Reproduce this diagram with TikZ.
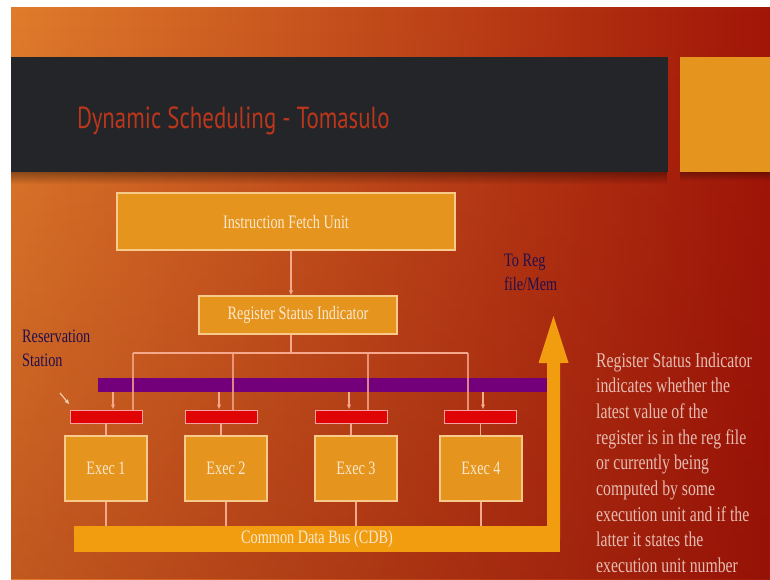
\documentclass[tikz,border=0pt]{standalone}
\usepackage{fontspec}
\setmainfont[FakeStretch=0.75]{Liberation Serif}
\newfontfamily\titlefont[FakeStretch=0.75]{PT Sans}
\usepackage{tikz}
\usetikzlibrary{positioning}
\usetikzlibrary{calc,fadings}
\usetikzlibrary{arrows.meta}
\definecolor{bgL}{HTML}{E07C2C}
\definecolor{bgM}{HTML}{C4441A}
\definecolor{bgR}{HTML}{A21608}
\definecolor{bgdark}{HTML}{7A0804}
\definecolor{titlebar}{HTML}{232528}
\definecolor{titlered}{HTML}{BC361B}
\definecolor{boxfill}{HTML}{E5941E}
\definecolor{boxedge}{HTML}{F7C98A}
\definecolor{boxtext}{HTML}{FBE8CC}
\definecolor{rsfill}{HTML}{E00404}
\definecolor{rsedge}{HTML}{F8A0A0}
\definecolor{purplebar}{HTML}{73007A}
\definecolor{cdbfill}{HTML}{F29C10}
\definecolor{wirecol}{HTML}{F5A88C}
\definecolor{ptrcol}{HTML}{F2CDA8}
\definecolor{lblcol}{HTML}{22104C}
\definecolor{notecol}{HTML}{E6BCB2}
\tikzstyle{unit} = [draw=boxedge, fill=boxfill, line width=1.2pt, text=boxtext, font=\fontsize{19}{22}\selectfont, inner sep=0pt]
\tikzstyle{execbox} = [unit, minimum width=82pt, minimum height=65pt]
\tikzstyle{station} = [draw=rsedge, fill=rsfill, line width=1pt, minimum width=72pt, minimum height=13pt, inner sep=0pt]
\tikzstyle{wire} = [draw=wirecol, line width=1.2pt]
\tikzstyle{arrowin} = [-{Latex[length=5pt,width=4.5pt]}]
\tikzstyle{busarrow} = [draw=cdbfill, line width=13pt, -{Triangle[length=55pt,width=25pt]}]
\tikzstyle{lbl} = [text=lblcol, font=\fontsize{19}{23.5}\selectfont, align=left, inner sep=0pt]
\tikzstyle{note} = [text=notecol, font=\fontsize{21}{25}\selectfont, anchor=base west, inner sep=0pt]

\begin{document}
\begin{tikzpicture}[x=1pt,y=-1pt]
\fill[white] (0,0) rectangle (770,579);
\shade[left color=bgL, middle color=bgM, right color=bgR] (11,7) rectangle (770,579);
\fill[bgdark, opacity=0.3, path fading=north] (11,7) rectangle (770,579); %darker below
\fill[black, opacity=0.35, path fading=south] (11,172) rectangle (668,184); %shadow
\fill[black, opacity=0.3, path fading=south] (680,172) rectangle (770,181);
\fill[titlebar] (11,57) rectangle (668,172); %title bar
\fill[boxfill] (680,57) rectangle (770,172);
\draw (77,128) node (title) [anchor=base west, inner sep=0pt, text=titlered, font=\titlefont\fontsize{30.5}{34}\selectfont] {Dynamic Scheduling - Tomasulo};
\draw (286,221.5) node (ifu) [unit, minimum width=338pt, minimum height=57pt] {Instruction Fetch Unit};
\draw (298,315) node (rsi) [unit, minimum width=198pt, minimum height=38pt] {Register Status Indicator};
\draw (324,385) node (bar) [fill=purplebar, minimum width=452pt, minimum height=14pt, inner sep=0pt] {};
\foreach \n/\x/\y in {1/106/106, 2/221/226, 3/351/356, 4/480.5/481} {
  \draw (\x,416.5) node (rs\n) [station] {};
  \draw (\y,468.5) node (ex\n) [execbox] {Exec \n};
}
\draw (317,539) node (cdb) [fill=cdbfill, minimum width=486pt, minimum height=26pt, inner sep=0pt, text=boxtext, font=\fontsize{19}{22}\selectfont] {Common Data Bus (CDB)};
\coordinate (regmem) at (553.5,308);
\draw[busarrow] ($(cdb.east)+(-6.5,0)$) -- (regmem);
% wires
\coordinate (sp) at (291,353);
\draw[wire, arrowin] (ifu.south -| sp) -- (rsi.north -| sp);
\draw[wire] (rsi.south -| sp) -- (sp);
\draw[wire] (sp -| 133,0) -- (sp -| 468,0);
\foreach \n/\d/\a in {1/133/113, 2/233/219, 3/368/349, 4/468/483} {
  \draw[wire, opacity=0.8] (sp -| \d,0) -- (rs\n.north -| \d,0);
  \draw[wire, arrowin] (bar.south -| \a,0) -- (rs\n.north -| \a,0);
  \draw[wire] (rs\n.south) -- (rs\n.south |- ex\n.north);
  \draw[wire] (ex\n.south) -- (ex\n.south |- cdb.north);
}
\coordinate (rsptr) at (60,393);
\draw[wire, draw=ptrcol, arrowin] (rsptr) -- ($(rs1.north west)+(0,-5)$);
% labels
\draw (504,254) node (tomem) [lbl, anchor=north west] {To Reg\\file/Mem};
\draw (22,330) node (rslbl) [lbl, anchor=north west] {Reservation\\Station};
\foreach \l [count=\i] in {Register Status Indicator, indicates whether the, latest value of the, register is in the reg file, or currently being, computed by some, execution unit and if the, latter it states the, execution unit number}
  \draw (596,{367+25.7*(\i-1)}) node (note\i) [note] {\l};
\end{tikzpicture}
\end{document}
